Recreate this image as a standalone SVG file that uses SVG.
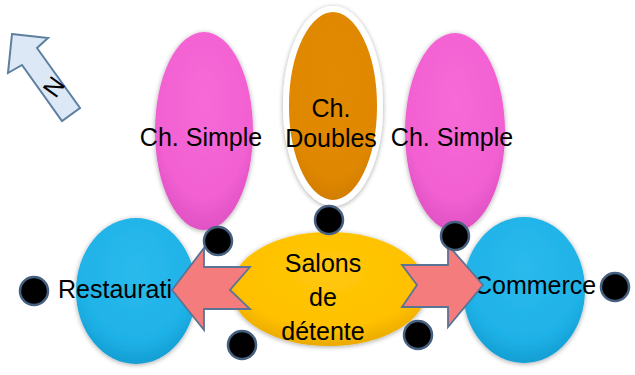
<svg xmlns="http://www.w3.org/2000/svg" width="635" height="375" viewBox="0 0 635 375">
<defs>
<radialGradient id="gPink" cx="50%" cy="35%" r="65%">
<stop offset="0" stop-color="#f76ad7"/><stop offset="0.75" stop-color="#f260d2"/><stop offset="1" stop-color="#e052c4"/>
</radialGradient>
<radialGradient id="gBlue" cx="50%" cy="35%" r="65%">
<stop offset="0" stop-color="#2bbaec"/><stop offset="0.75" stop-color="#1fb2e8"/><stop offset="1" stop-color="#149ed3"/>
</radialGradient>
<radialGradient id="gYellow" cx="50%" cy="35%" r="65%">
<stop offset="0" stop-color="#ffc80a"/><stop offset="0.75" stop-color="#ffc000"/><stop offset="1" stop-color="#eaaa00"/>
</radialGradient>
<radialGradient id="gOrange" cx="50%" cy="35%" r="65%">
<stop offset="0" stop-color="#e28a00"/><stop offset="0.8" stop-color="#df8700"/><stop offset="1" stop-color="#cf7c00"/>
</radialGradient>
<filter id="shadow" x="-20%" y="-20%" width="140%" height="140%">
<feGaussianBlur in="SourceAlpha" stdDeviation="2.5"/>
<feOffset dx="0" dy="1" result="b"/>
<feComponentTransfer><feFuncA type="linear" slope="0.35"/></feComponentTransfer>
<feMerge><feMergeNode/><feMergeNode in="SourceGraphic"/></feMerge>
</filter>
</defs>
<style>
text{font-family:"Liberation Sans",Arial,sans-serif;font-size:25px;fill:#000}
.pink{fill:url(#gPink)}
.blue{fill:url(#gBlue)}
.yellow{fill:url(#gYellow)}
.orange{fill:url(#gOrange);stroke:#ffffff;stroke-width:6}
.arrow{fill:#f47c7c;stroke:#5b7394;stroke-width:1.8;stroke-linejoin:miter}
.dot{fill:#000;stroke:#46607f;stroke-width:2.5}
.north{fill:#dce8f5;stroke:#5d7fa0;stroke-width:2}
</style>

<g id="north-arrow">
<polygon class="north" points="12,34 48,38 37,48 80,108 62,121 22,65 8,73"/>
<text x="54" y="87" text-anchor="middle" dy="0.35em" font-size="24" transform="rotate(126 54 87)">N</text>
</g>

<g id="ch-simple-left">
<ellipse class="pink" cx="204" cy="131" rx="49" ry="99" filter="url(#shadow)"/>
<text x="201" y="146" text-anchor="middle" font-size="25.5">Ch. Simple</text>
</g>

<g id="ch-doubles">
<ellipse class="orange" cx="333" cy="106" rx="47" ry="97" filter="url(#shadow)"/>
<text x="331" y="117" text-anchor="middle">Ch.</text>
<text x="331" y="147" text-anchor="middle">Doubles</text>
</g>

<g id="ch-simple-right">
<ellipse class="pink" cx="455" cy="132" rx="50" ry="99" filter="url(#shadow)"/>
<text x="452" y="146" text-anchor="middle" font-size="25.5">Ch. Simple</text>
</g>

<g id="restauration">
<ellipse class="blue" cx="136" cy="291" rx="60" ry="73" filter="url(#shadow)"/>
<text x="58" y="298">Restaurati</text>
</g>

<g id="commerce">
<ellipse class="blue" cx="524" cy="290" rx="61" ry="73" filter="url(#shadow)"/>
<text x="474" y="294" font-size="24">Commerce</text>
</g>

<g id="salons">
<ellipse class="yellow" cx="329" cy="289" rx="98" ry="57" filter="url(#shadow)"/>
<text x="323" y="272" text-anchor="middle">Salons</text>
<text x="323" y="306" text-anchor="middle">de</text>
<text x="323" y="340" text-anchor="middle">détente</text>
</g>

<g id="connectors">
<polygon class="arrow" points="172,290 204,248 204,267 250,267 230,290 250,309 204,309 204,330"/>
<polygon class="arrow" points="483,285 448,245 448,265 402,265 417,285 402,307 448,307 448,327"/>
</g>

<g id="dots">
<circle id="dot1" class="dot" cx="218" cy="241" r="14"/>
<circle id="dot2" class="dot" cx="34" cy="291" r="14"/>
<circle id="dot3" class="dot" cx="242" cy="345" r="14"/>
<circle id="dot4" class="dot" cx="329" cy="220" r="14"/>
<circle id="dot5" class="dot" cx="455" cy="236" r="14"/>
<circle id="dot6" class="dot" cx="418" cy="335" r="14"/>
<circle id="dot7" class="dot" cx="615" cy="287" r="14"/>
</g>
</svg>
